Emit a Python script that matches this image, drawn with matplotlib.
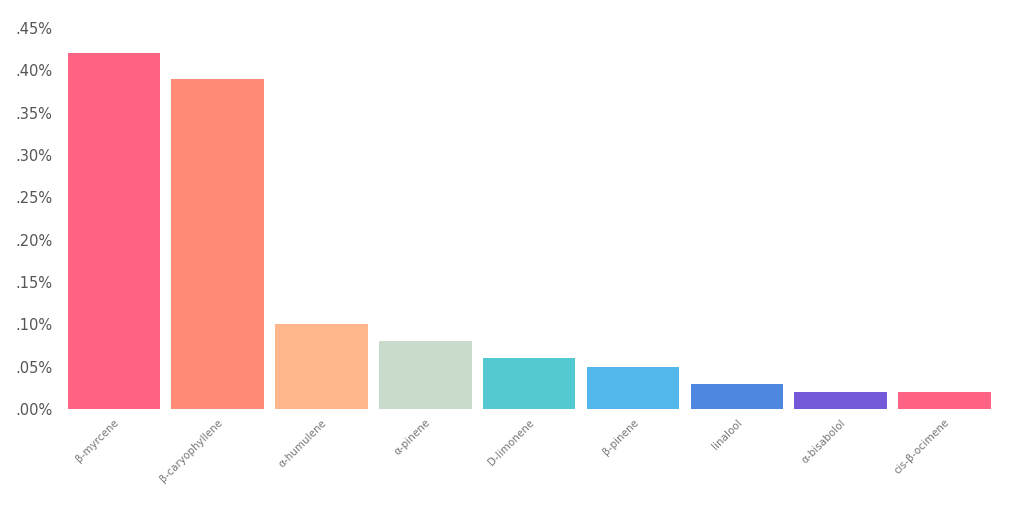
import matplotlib.pyplot as plt

terpenes = ["β-myrcene", "β-caryophyllene", "α-humulene", "α-pinene", "D-limonene",
            "β-pinene", "linalool", "α-bisabolol", "cis-β-ocimene"]
percent = [0.42, 0.39, 0.10, 0.08, 0.06, 0.05, 0.03, 0.02, 0.02]
colors = ["#FF6384", "#FF8B76", "#FFB68A", "#C9DCCB", "#55C9D1",
          "#52B7EA", "#4E87DF", "#7358D7", "#FF6384"]
yticks = [0.0, 0.05, 0.10, 0.15, 0.20, 0.25, 0.30, 0.35, 0.40, 0.45]

fig = plt.figure(figsize=(10.24, 5.09), dpi=100)
ax = fig.add_axes([0.0605, 0.1965, 0.9125, 0.7485])

x = range(len(terpenes))
ax.bar(x, percent, width=0.89, color=colors)
ax.set_xlim(-0.5, len(terpenes) - 0.5)
ax.set_ylim(0, 0.45)

ax.set_yticks(yticks)
ax.set_yticklabels(["." + f"{v:.2f}".split(".")[1] + "%" for v in yticks],
                   fontsize=10.5, color="#555555")
ax.set_xticks(list(x))
ax.set_xticklabels(terpenes, rotation=45, ha="right", rotation_mode="anchor",
                   fontsize=7.5, color="#777777")
ax.tick_params(length=0, axis="y", pad=7)
ax.tick_params(length=0, axis="x", pad=6)
for s in ax.spines.values():
    s.set_visible(False)

fig.savefig("out.png", dpi=100)
